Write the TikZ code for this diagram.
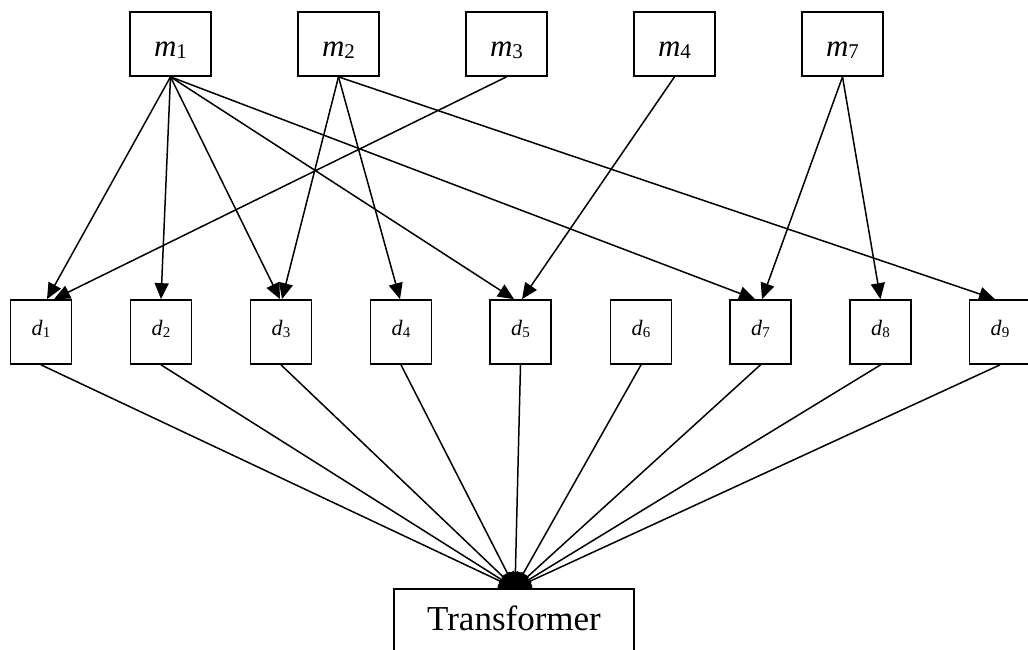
\documentclass[tikz,border=0pt]{standalone}
\usepackage{fontspec}
\setmainfont{Liberation Serif}
\usetikzlibrary{arrows.meta}
\newcommand\mlab[1]{\fontsize{31}{31}\selectfont\textit{m}\raisebox{-2pt}{\fontsize{21}{21}\selectfont #1}}
\newcommand\dlab[1]{\fontsize{22}{22}\selectfont\textit{d}\raisebox{-2pt}{\fontsize{15}{15}\selectfont #1}}
\tikzset{
  mbox/.style={draw, line width=1.7pt, minimum width=81pt, minimum height=64pt, inner sep=0pt, text height=26pt, text depth=0pt},
  dbox/.style={draw, line width=1.7pt, minimum width=61pt, minimum height=64pt, inner sep=0pt, text height=12pt, text depth=6pt},
  tbox/.style={draw, line width=1.7pt, minimum width=240pt, minimum height=71pt, inner sep=0pt, text height=11pt, text depth=0pt, font=\fontsize{35}{35}\selectfont},
  edge/.style={line width=1.5pt, -{Triangle[length=16pt,width=14pt]}}
}
\begin{document}
\begin{tikzpicture}[x=1pt,y=-1pt]
\useasboundingbox (0,0) rectangle (1028,650);
% top nodes
\node[mbox] (m1) at (170.5,44) {\mlab{1}};
\node[mbox] (m2) at (338.5,44) {\mlab{2}};
\node[mbox] (m3) at (506.5,44) {\mlab{3}};
\node[mbox] (m4) at (674.5,44) {\mlab{4}};
\node[mbox] (m7) at (842.5,44) {\mlab{7}};
% middle nodes
\node[dbox] (d1) at (41,332) {\dlab{1}};
\node[dbox] (d2) at (161,332) {\dlab{2}};
\node[dbox] (d3) at (281,332) {\dlab{3}};
\node[dbox] (d4) at (401,332) {\dlab{4}};
\node[dbox] (d5) at (520.5,332) {\dlab{5}};
\node[dbox] (d6) at (641,332) {\dlab{6}};
\node[dbox] (d7) at (760.5,332) {\dlab{7}};
\node[dbox] (d8) at (880.5,332) {\dlab{8}};
\node[dbox] (d9) at (1000,332) {\dlab{9}};
% bottom node
\node[tbox] (tr) at (514,624.5) {Transformer};
% edges top -> middle
\draw[edge] (m1.south) -- ([xshift=6pt]d1.north);
\draw[edge] (m3.south) -- ([xshift=13pt]d1.north);
\draw[edge] (m1.south) -- (d2.north);
\draw[edge] (m1.south) -- ([xshift=-1pt]d3.north);
\draw[edge] (m2.south) -- ([xshift=1pt]d3.north);
\draw[edge] (m2.south) -- ([xshift=-1pt]d4.north);
\draw[edge] (m1.south) -- ([xshift=-6.5pt]d5.north);
\draw[edge] (m4.south) -- ([xshift=1.5pt]d5.north);
\draw[edge] (m1.south) -- ([xshift=-5.5pt]d7.north);
\draw[edge] (m7.south) -- ([xshift=1.5pt]d7.north);
\draw[edge] (m7.south) -- (d8.north);
\draw[edge] (m2.south) -- ([xshift=-5pt]d9.north);
% edges middle -> bottom
\foreach \d in {d1,d2,d3,d4,d5,d6,d7,d8,d9}
  \draw[edge] (\d.south) -- ([xshift=1pt]tr.north);
\end{tikzpicture}
\end{document}
